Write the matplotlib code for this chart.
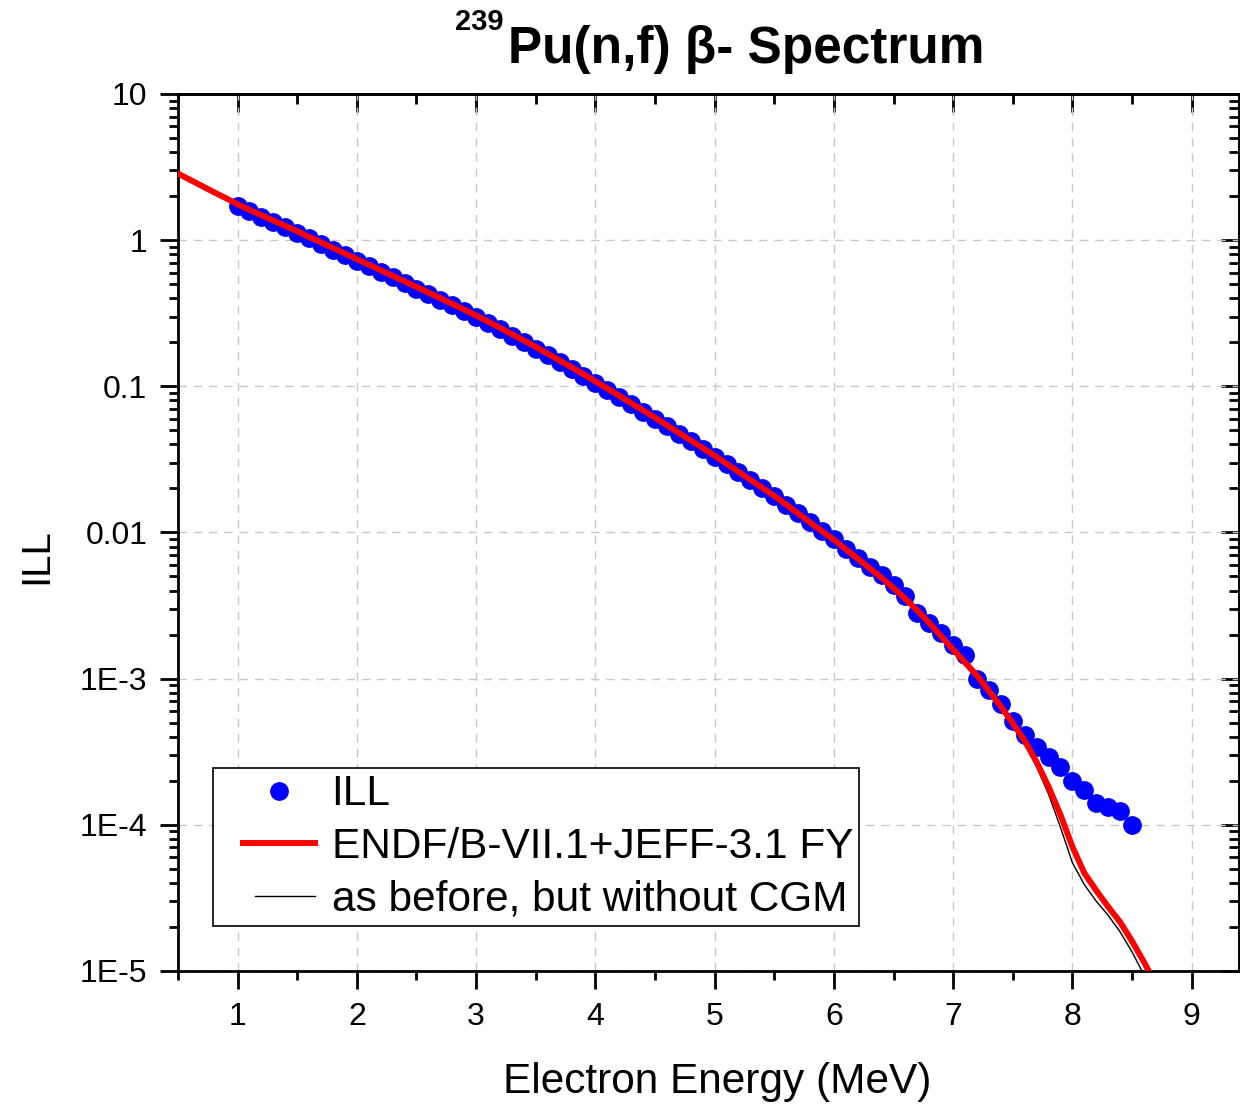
import matplotlib
matplotlib.use("Agg")
import matplotlib.pyplot as plt
from matplotlib.ticker import FixedLocator, NullFormatter, LogLocator
from matplotlib.legend_handler import HandlerLine2D
import numpy as np

plt.rcParams['font.family'] = ['Liberation Sans', 'DejaVu Sans']

# ILL measured spectrum (points)
ill_e = [1.0, 1.1, 1.2, 1.3, 1.4, 1.5, 1.6, 1.7, 1.8, 1.9,
         2.0, 2.1, 2.2, 2.3, 2.4, 2.5, 2.6, 2.7, 2.8, 2.9,
         3.0, 3.1, 3.2, 3.3, 3.4, 3.5, 3.6, 3.7, 3.8, 3.9,
         4.0, 4.1, 4.2, 4.3, 4.4, 4.5, 4.6, 4.7, 4.8, 4.9,
         5.0, 5.1, 5.2, 5.3, 5.4, 5.5, 5.6, 5.7, 5.8, 5.9,
         6.0, 6.1, 6.2, 6.3, 6.4, 6.5, 6.6, 6.7, 6.8, 6.9,
         7.0, 7.1, 7.2, 7.3, 7.4, 7.5, 7.6, 7.7, 7.8, 7.9,
         8.0, 8.1, 8.2, 8.3, 8.4, 8.5]
ill_y = [1.70, 1.57, 1.45, 1.33, 1.22, 1.12, 1.03, 0.945, 0.862, 0.792,
         0.725, 0.664, 0.607, 0.556, 0.510, 0.466, 0.427, 0.390, 0.357, 0.326,
         0.297, 0.270, 0.245, 0.222, 0.201, 0.181, 0.163, 0.147, 0.132, 0.118,
         0.106, 0.0945, 0.0843, 0.0752, 0.0670, 0.0597, 0.0532, 0.0472, 0.0420, 0.0372,
         0.0330, 0.0292, 0.0258, 0.0228, 0.0201, 0.0177, 0.0155, 0.0135, 0.0118, 0.0103,
         0.00900, 0.00775, 0.00670, 0.00580, 0.00510, 0.00440, 0.00365, 0.00280, 0.00240, 0.00205,
         0.00170, 0.00145, 0.00100, 8.3e-4, 6.7e-4, 5.1e-4, 4.1e-4, 3.4e-4, 2.9e-4, 2.5e-4,
         2.0e-4, 1.73e-4, 1.40e-4, 1.33e-4, 1.24e-4, 1.0e-4]

# calculated spectra
calc_e = [0.5, 0.6, 0.7, 0.8, 0.9, 1.0, 1.1, 1.2, 1.3, 1.4,
          1.5, 1.6, 1.7, 1.8, 1.9, 2.0, 2.1, 2.2, 2.3, 2.4,
          2.5, 2.6, 2.7, 2.8, 2.9, 3.0, 3.1, 3.2, 3.3, 3.4,
          3.5, 3.6, 3.7, 3.8, 3.9, 4.0, 4.1, 4.2, 4.3, 4.4,
          4.5, 4.6, 4.7, 4.8, 4.9, 5.0, 5.1, 5.2, 5.3, 5.4,
          5.5, 5.6, 5.7, 5.8, 5.9, 6.0, 6.1, 6.2, 6.3, 6.4,
          6.5, 6.6, 6.7, 6.8, 6.9, 7.0, 7.1, 7.2, 7.3, 7.4,
          7.5, 7.6, 7.7, 7.8, 7.9, 8.0, 8.1, 8.2, 8.3, 8.4,
          8.5, 8.6, 8.7]
endf_y = [2.85, 2.59, 2.35, 2.13, 1.94, 1.76, 1.61, 1.48, 1.36, 1.25,
          1.15, 1.05, 0.964, 0.883, 0.809, 0.741, 0.679, 0.622, 0.570, 0.522,
          0.479, 0.438, 0.400, 0.366, 0.334, 0.305, 0.277, 0.251, 0.227, 0.206,
          0.186, 0.167, 0.150, 0.135, 0.121, 0.108, 0.0966, 0.0861, 0.0767, 0.0684,
          0.0610, 0.0541, 0.0480, 0.0426, 0.0378, 0.0335, 0.0295, 0.0260, 0.0229, 0.0202,
          0.0178, 0.0155, 0.0135, 0.0117, 0.0102, 0.00891, 0.00767, 0.00661, 0.00569, 0.00490,
          0.00417, 0.00351, 0.00292, 0.00240, 0.00195, 0.00158, 0.00129, 0.00105, 8.22e-4, 6.46e-4,
          4.95e-4, 3.76e-4, 2.69e-4, 1.82e-4, 1.17e-4, 7.08e-5, 4.68e-5, 3.55e-5, 2.75e-5, 2.16e-5,
          1.60e-5, 1.15e-5, 8.1e-6]
nocgm_y = [2.78, 2.53, 2.29, 2.08, 1.89, 1.72, 1.57, 1.44, 1.33, 1.22,
           1.12, 1.02, 0.940, 0.861, 0.789, 0.722, 0.662, 0.606, 0.556, 0.509,
           0.467, 0.427, 0.390, 0.357, 0.326, 0.297, 0.270, 0.245, 0.221, 0.201,
           0.181, 0.163, 0.146, 0.132, 0.118, 0.105, 0.0942, 0.0839, 0.0748, 0.0667,
           0.0595, 0.0527, 0.0468, 0.0415, 0.0369, 0.0327, 0.0288, 0.0254, 0.0223, 0.0197,
           0.0174, 0.0151, 0.0132, 0.0114, 0.00995, 0.00869, 0.00748, 0.00644, 0.00555, 0.00478,
           0.00407, 0.00342, 0.00285, 0.00234, 0.00189, 0.00152, 0.00123, 0.00100, 7.85e-4, 6.15e-4,
           4.70e-4, 3.55e-4, 2.50e-4, 1.62e-4, 9.6e-5, 5.5e-5, 3.9e-5, 3.0e-5, 2.4e-5, 1.85e-5,
           1.35e-5, 9.4e-6, 6.5e-6]

ytick_vals = [1e-5, 1e-4, 1e-3, 1e-2, 1e-1, 1, 10]
ytick_labels = ['1E-5', '1E-4', '1E-3', '0.01', '0.1', '1', '10']
xtick_vals = [1, 2, 3, 4, 5, 6, 7, 8, 9]
xminor_vals = [0.5, 1.5, 2.5, 3.5, 4.5, 5.5, 6.5, 7.5, 8.5]

fig = plt.figure(figsize=(12.4, 11.05), dpi=100)
ax = fig.add_axes([0.1435, 0.1213, 0.8557, 0.7937])

pts, = ax.plot(ill_e, ill_y, 'o', color='blue', ms=12.5, mec='blue', zorder=2, label='ILL')
l_black, = ax.plot(calc_e, nocgm_y, color='black', lw=1.0, zorder=3,
                   label='as before, but without CGM')
l_red, = ax.plot(calc_e, endf_y, color='red', lw=4.3, zorder=4,
                 label='ENDF/B-VII.1+JEFF-3.1 FY')

ax.set_yscale('log')
ax.set_xlim(0.5, 9.397)
ax.set_ylim(1e-5, 10)

ax.set_xticks(xtick_vals)
ax.set_xticklabels([str(v) for v in xtick_vals])
ax.xaxis.set_minor_locator(FixedLocator(xminor_vals))
ax.set_yticks(ytick_vals)
ax.set_yticklabels(ytick_labels)
ax.yaxis.set_minor_locator(LogLocator(base=10, subs=np.arange(2, 10), numticks=20))
ax.yaxis.set_minor_formatter(NullFormatter())

ax.tick_params(which='major', direction='out', length=13, width=2, labelsize=23, pad=9)
ax.tick_params(which='minor', direction='out', length=6.5, width=2)
for sp in ax.spines.values():
    sp.set_linewidth(2)

ax.grid(True, which='major', color='#c8c8c8', linestyle=(0, (6, 5)), linewidth=1)

# top and right axes: inward ticks, no labels
top = ax.secondary_xaxis('top')
top.set_xticks(xtick_vals)
top.xaxis.set_minor_locator(FixedLocator(xminor_vals))
top.tick_params(which='major', direction='in', length=13, width=2, labeltop=False)
top.tick_params(which='minor', direction='in', length=7, width=2)
top.spines['top'].set_linewidth(2)
right = ax.secondary_yaxis('right')
right.set_yticks(ytick_vals)
right.yaxis.set_minor_locator(LogLocator(base=10, subs=np.arange(2, 10), numticks=20))
right.tick_params(which='major', direction='in', length=13, width=2, labelright=False)
right.tick_params(which='minor', direction='in', length=7, width=2, labelright=False)
right.yaxis.set_minor_formatter(NullFormatter())
right.spines['right'].set_linewidth(2)

leg = ax.legend(handles=[pts, l_red, l_black], loc='lower left',
                bbox_to_anchor=(0.033, 0.051), fontsize=30.5, frameon=True,
                fancybox=False, edgecolor='black', framealpha=1, numpoints=1,
                handlelength=2.25, handletextpad=0.4, borderpad=0.15, labelspacing=0.3,
                borderaxespad=0,
                handler_map={pts: HandlerLine2D(xpad=0.55),
                             l_red: HandlerLine2D(xpad=0.55),
                             l_black: HandlerLine2D(xpad=0.85)})
leg.get_frame().set_linewidth(1.2)

fig.text(0.578, 0.011, 'Electron Energy (MeV)', fontsize=30.5, ha='center', va='baseline')
fig.text(0.029, 0.497, 'ILL', fontsize=29, rotation=90, ha='center', va='center')
fig.text(0.4097, 0.943, 'Pu(n,f) \u03b2- Spectrum', fontsize=37, fontweight='bold',
         ha='left', va='baseline')
fig.text(0.367, 0.973, '239', fontsize=21, fontweight='bold', ha='left', va='baseline')

fig.savefig('out.png', dpi=100)
